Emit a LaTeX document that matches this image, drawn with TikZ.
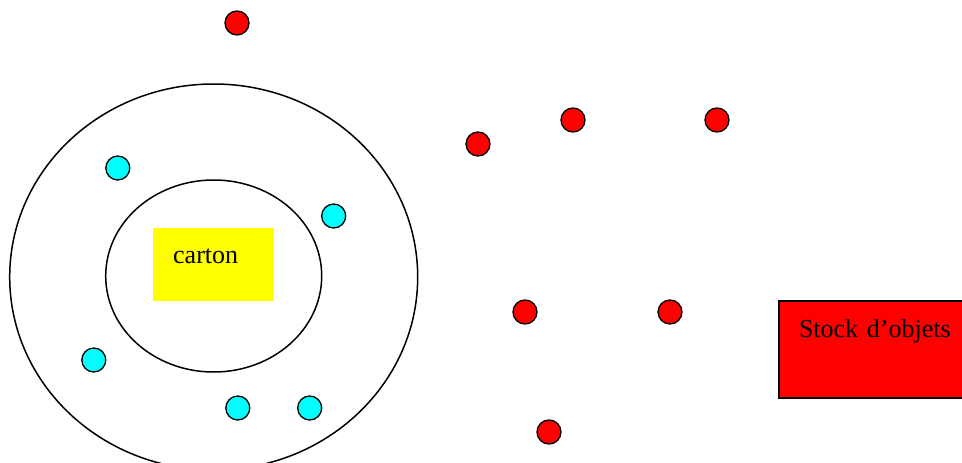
\documentclass[tikz,border=0pt]{standalone}
\usepackage{fontspec}
\setmainfont{Liberation Serif}
\usepackage{tikz}
\usetikzlibrary{positioning,shapes.geometric}
\definecolor{dotred}{RGB}{255,0,0}
\definecolor{dotcyan}{RGB}{0,255,255}
\definecolor{boxyellow}{RGB}{255,255,0}
\tikzset{
  ring/.style={draw,ellipse,line width=1.5pt,inner sep=0pt},
  dot/.style={draw,circle,line width=1.3pt,minimum size=24pt,inner sep=0pt},
  obj/.style={dot,fill=dotred},
  tok/.style={dot,fill=dotcyan},
  lbl/.style={font=\fontsize{26}{30}\selectfont,anchor=north west,align=left,inner ysep=0pt,inner xsep=20pt},
}
\begin{document}
\begin{tikzpicture}[x=1pt,y=-1pt,
  carton/.style={lbl,fill=boxyellow,text width=81pt,text height=35pt,text depth=38pt},
  stock/.style={lbl,fill=dotred,draw=black,line width=2pt,text width=170pt,text height=36pt,text depth=61pt}]
  \useasboundingbox (0,0) rectangle (962,463);
  \clip (0,0) rectangle (962,463);
  % rings
  \node[ring,minimum width=408pt,minimum height=386pt] (outer) at (213.7,277) {};
  \node[ring,minimum width=216pt,minimum height=192pt] (inner) at (213.7,276) {};
  \node[carton] (box) at (153,228) {carton};
  % tokens inside the outer ring
  \node[tok] (t1) at (117.8,168) {};
  \node[tok] (t2) at (333.7,216) {};
  \node[tok] (t3) at (93.8,360) {};
  \node[tok] (t4) at (237.8,408) {};
  \node[tok] (t5) at (309.7,408) {};
  % free objects
  \node[obj] (o1) at (237,23) {};
  \node[obj] (o2) at (478,144) {};
  \node[obj] (o3) at (573,120) {};
  \node[obj] (o4) at (717,120) {};
  \node[obj] (o5) at (525,312) {};
  \node[obj] (o6) at (670,312) {};
  \node[obj] (o7) at (549,432) {};
  \node[stock] (stk) at (778,300) {Stock d’objets};
\end{tikzpicture}
\end{document}
